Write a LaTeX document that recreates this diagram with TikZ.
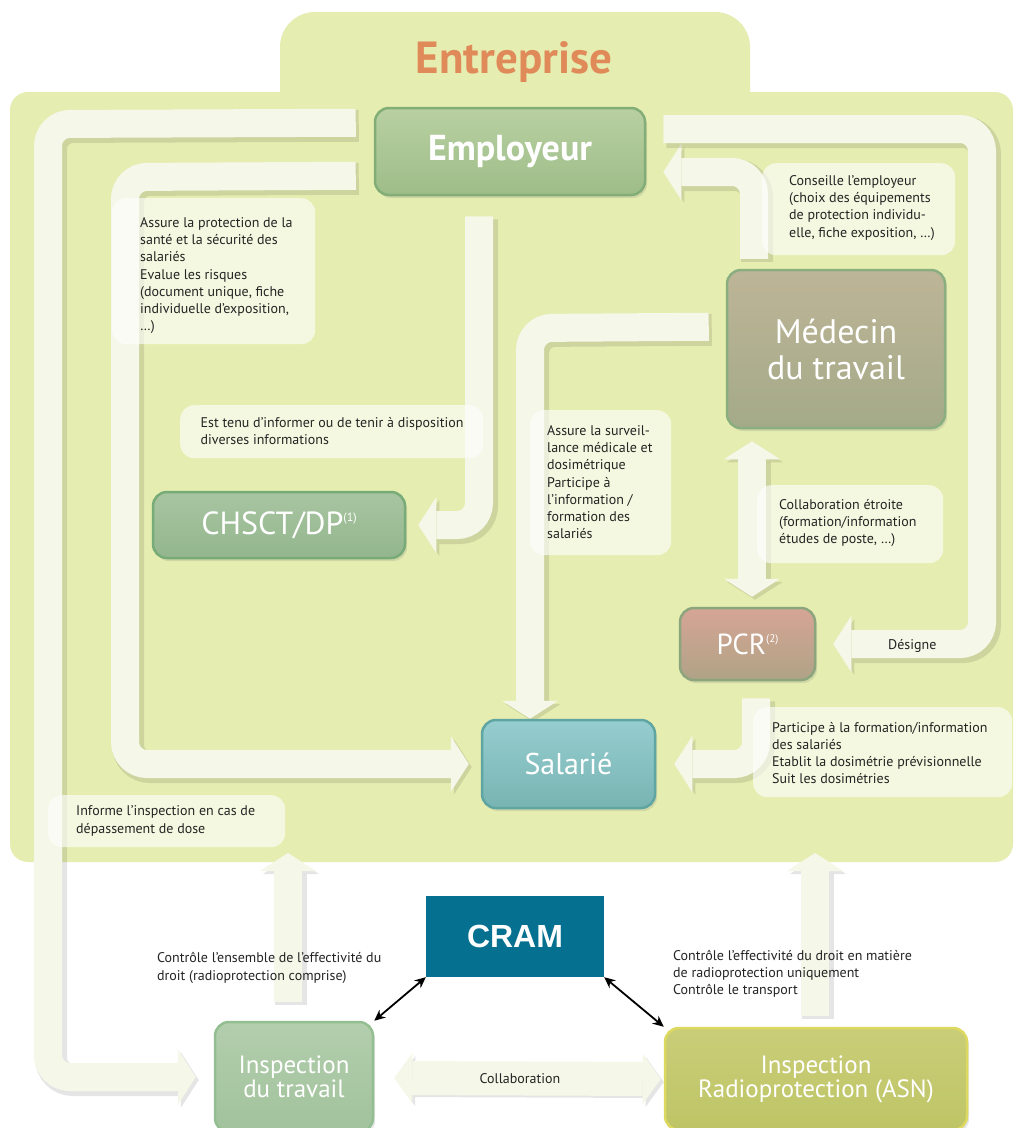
\documentclass[tikz,border=0pt]{standalone}
\usepackage{fontspec}
\setmainfont{PT Sans}
\newfontfamily\cramfont{Liberation Sans}
\usetikzlibrary{arrows.meta,shadows}
\pgfdeclarelayer{bg}
\pgfdeclarelayer{band}
\pgfdeclarelayer{lbl}
\pgfsetlayers{bg,band,lbl,main}
\definecolor{bgc}{HTML}{E5EDB0}
\definecolor{bandc}{HTML}{F5F7E8}
\definecolor{orangec}{HTML}{E08A5A}
\definecolor{txt}{HTML}{242424}
\definecolor{empT}{HTML}{B9D0A2}\definecolor{empB}{HTML}{9DBD88}\definecolor{empR}{HTML}{82AD76}
\definecolor{medT}{HTML}{BDB597}\definecolor{medB}{HTML}{A4AA88}\definecolor{medR}{HTML}{8AAE80}
\definecolor{chT}{HTML}{A8C5A1}\definecolor{chB}{HTML}{93B68E}\definecolor{chR}{HTML}{77AB78}
\definecolor{pcrT}{HTML}{D6A595}\definecolor{pcrB}{HTML}{AFA385}\definecolor{pcrR}{HTML}{8DA57D}
\definecolor{salT}{HTML}{96CDD0}\definecolor{salB}{HTML}{78B4B2}\definecolor{salR}{HTML}{5FA5A2}
\definecolor{cramc}{HTML}{05708F}
\definecolor{itT}{HTML}{B3CEAD}\definecolor{itB}{HTML}{A1C29C}\definecolor{itR}{HTML}{93BE91}
\definecolor{asnT}{HTML}{CACD78}\definecolor{asnB}{HTML}{BEC566}\definecolor{asnR}{HTML}{DDD860}
\tikzset{
  bandtip/.tip={Triangle[length=18pt,width=56pt,line width=0pt]},
  colltip/.tip={Triangle[length=18pt,width=50pt,line width=0pt]},
  band/.style={line width=28pt, draw=bandc, rounded corners=22pt, -bandtip,
    preaction={draw=black, opacity=0.1, line width=32pt, transform canvas={xshift=3pt,yshift=-3pt}}},
  lbox/.style={fill=white, fill opacity=0.62, rounded corners=14pt, inner sep=0pt, anchor=north west},
  ltext/.style={font=\fontsize{14}{17.3}\selectfont, text=txt, align=left, inner sep=0pt, anchor=north west},
  box/.style={rounded corners=14pt, line width=2.5pt, text=white, align=center, inner sep=0pt,
    drop shadow={shadow xshift=2pt, shadow yshift=-3pt, opacity=0.2}},
  thinarrow/.style={line width=1.8pt, draw=black, {Stealth[length=11pt,width=10pt]}-{Stealth[length=11pt,width=10pt]}}
}
\begin{document}
\begin{tikzpicture}[x=1pt,y=-1pt]
\useasboundingbox (0,0) rectangle (1014,1128);
\begin{pgfonlayer}{bg}
\fill[white] (0,0) rectangle (1014,1128);
\fill[bgc, rounded corners=35pt] (280,12) rectangle (750,140);
\fill[bgc, rounded corners=18pt] (10,92) rectangle (1013,862);
\end{pgfonlayer}

\node[font=\fontsize{45}{48}\selectfont\bfseries, text=orangec, anchor=base] (ent) at (514,73) {Entreprise};

% boxes
\node[box, draw=empR, top color=empT, bottom color=empB, minimum width=270pt, minimum height=87pt,
  font=\fontsize{36}{38}\selectfont\bfseries] (emp) at (510,151.5) {Employeur};
\node[box, draw=medR, top color=medT, bottom color=medB, minimum width=218pt, minimum height=158pt,
  font=\fontsize{34}{36}\selectfont] (med) at (836,349) {Médecin\\du travail};
\node[box, draw=chR, top color=chT, bottom color=chB, minimum width=252pt, minimum height=66pt,
  font=\fontsize{32}{34}\selectfont] (chsct) at (279,525) {CHSCT/DP\raisebox{13pt}{\fontsize{12}{12}\selectfont(1)}};
\node[box, draw=pcrR, top color=pcrT, bottom color=pcrB, minimum width=135pt, minimum height=72pt,
  font=\fontsize{29}{30}\selectfont] (pcr) at (747.5,644) {PCR\raisebox{12pt}{\fontsize{11}{11}\selectfont(2)}};
\node[box, draw=salR, top color=salT, bottom color=salB, minimum width=173pt, minimum height=88pt,
  font=\fontsize{30}{32}\selectfont] (sal) at (568.5,764) {Salarié};
\node[fill=cramc, text=white, minimum width=178pt, minimum height=81pt, inner sep=0pt,
  font=\cramfont\bfseries\fontsize{32}{34}\selectfont] (cram) at (515,936.5) {CRAM};
\node[box, draw=itR, top color=itT, bottom color=itB, minimum width=158pt, minimum height=110pt,
  font=\fontsize{25}{22}\selectfont] (inspT) at (294,1077) {Inspection\\du travail};
\node[box, draw=asnR, top color=asnT, bottom color=asnB, minimum width=302pt, minimum height=102pt,
  font=\fontsize{25}{22}\selectfont] (asn) at (816,1079) {Inspection\\Radioprotection (ASN)};

\coordinate (entL) at (288,853);
\coordinate (entR) at (815,853);

% wide arrows
\begin{pgfonlayer}{band}
\draw[band, shorten >=18pt] ([shift={(-18,16)}]emp.north west) -- (48,124) -- (48,1077) -- (inspT.west);
\draw[band, shorten >=12pt] ([shift={(-18,69)}]emp.north west) -- (125,177) -- (125,764) -- (sal.west);
\draw[band, shorten >=12pt] ([shift={(-31,20)}]emp.south) -- (479,525) -- (chsct.east);
\draw[band] ([shift={(-17,58)}]med.north west) -- (530,328) -- ([xshift=-38.5pt]sal.north);
\draw[band] ([shift={(-82,-10)}]med.north) -- (754,172) -- ([shift={(17,20.5)}]emp.east);
\draw[band] ([shift={(17,-22.5)}]emp.east) -- (982,129) -- (982,644) -- ([xshift=17pt]pcr.east);
\draw[band, bandtip-bandtip] ([shift={(-84,12)}]med.south) -- ([shift={(4.5,-10)}]pcr.north);
\draw[band] ([shift={(8.5,17)}]pcr.south) -- (756,764) -- ([xshift=18pt]sal.east);
\draw[band] ([shift={(-6,-19)}]inspT.north) -- (entL);
\draw[band] ([shift={(-1,-11)}]asn.north) -- (entR);
\draw[band, line width=34pt, colltip-colltip] ([shift={(20,1)}]inspT.east) -- ([shift={(-3,0)}]asn.west);
\end{pgfonlayer}

\draw[thinarrow] (cram.south west) -- (inspT.north east);
\draw[thinarrow] (cram.south east) -- (asn.north west);

% label boxes
\begin{pgfonlayer}{lbl}
\node[lbox, minimum width=203pt, minimum height=146pt] (b1) at (112,198) {};
\node[lbox, minimum width=303pt, minimum height=53pt] (b2) at (180,405) {};
\node[lbox, minimum width=141pt, minimum height=145pt] (b3) at (530,410) {};
\node[lbox, minimum width=193pt, minimum height=92pt] (b4) at (762,163) {};
\node[lbox, minimum width=186pt, minimum height=78pt] (b5) at (757,485) {};
\node[lbox, minimum width=259pt, minimum height=90pt] (b6) at (753,707) {};
\node[lbox, minimum width=237pt, minimum height=52pt] (b7) at (48,795) {};
\end{pgfonlayer}

\node[ltext] (t1) at (140,217) {Assure la protection de la\\santé et la sécurité des\\salariés\\Evalue les risques\\(document unique, fiche\\individuelle d’exposition,\\\dots)};
\node[ltext] (t2) at (200.5,417) {Est tenu d’informer ou de tenir à disposition\\diverses informations};
\node[ltext] (t3) at (547,425) {Assure la surveil-\\lance médicale et\\dosimétrique\\Participe à\\l’information /\\formation des\\salariés};
\node[ltext] (t4) at (789,175) {Conseille l’employeur\\(choix des équipements\\de protection individu-\\elle, fiche exposition, \dots)};
\node[ltext] (t5) at (779,499) {Collaboration étroite\\(formation/information\\études de poste, \dots)};
\node[ltext, font=\fontsize{14}{17}\selectfont] (t6) at (772,722) {Participe à la formation/information\\des salariés\\Etablit la dosimétrie prévisionnelle\\Suit les dosimétries};
\node[ltext, anchor=base west] (t7) at (888,649) {Désigne};
\node[ltext, font=\fontsize{14}{18}\selectfont] (t8) at (76,805) {Informe l’inspection en cas de\\dépassement de dose};
\node[ltext, font=\fontsize{14}{18}\selectfont] (t9) at (157,952) {Contrôle l’ensemble de l’effectivité du\\droit (radioprotection comprise)};
\node[ltext, font=\fontsize{14}{17}\selectfont] (t10) at (673,950) {Contrôle l’effectivité du droit en matière\\de radioprotection uniquement\\Contrôle le transport};
\node[ltext, anchor=base] (t11) at (520,1083) {Collaboration};
\end{tikzpicture}
\end{document}
